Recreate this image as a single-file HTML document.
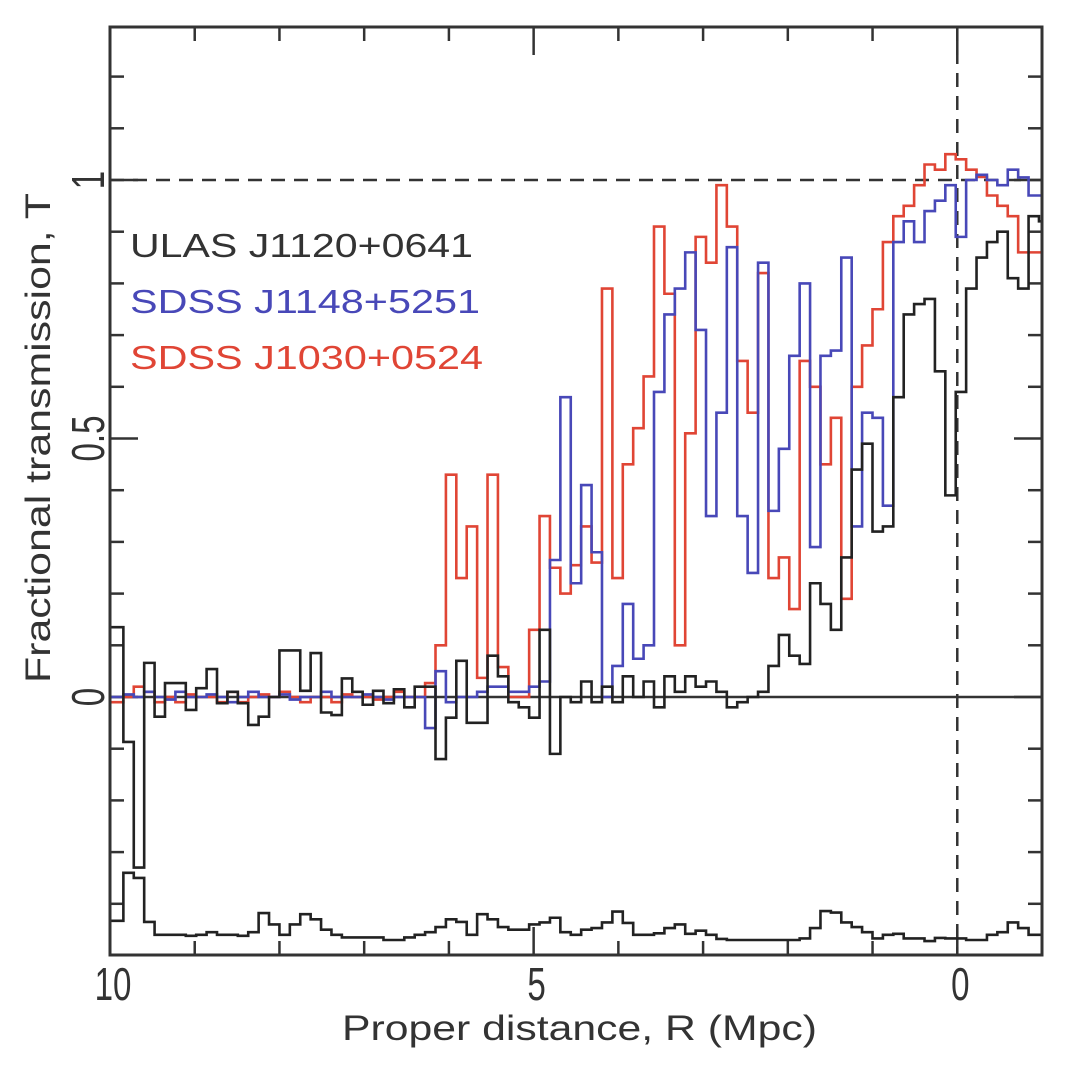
<!DOCTYPE html>
<html><head><meta charset="utf-8"><style>
html,body{margin:0;padding:0;background:#fff;}
svg{display:block;font-family:"Liberation Sans",sans-serif;}
</style></head><body>
<svg id="chart" width="1066" height="1070" viewBox="0 0 1066 1070" xmlns="http://www.w3.org/2000/svg">
<g id="axes"></g>
<g id="series"></g>
<rect x="110" y="27" width="932" height="928" fill="none" stroke="#333" stroke-width="3"/>
<text x="130" y="257" font-size="33" fill="#333" textLength="343" lengthAdjust="spacingAndGlyphs">ULAS J1120+0641</text>
<text x="130" y="313" font-size="33" fill="#4848b8" textLength="350" lengthAdjust="spacingAndGlyphs">SDSS J1148+5251</text>
<text x="130" y="369" font-size="33" fill="#e04535" textLength="353" lengthAdjust="spacingAndGlyphs">SDSS J1030+0524</text>
<text x="342" y="1040" font-size="35" fill="#333" textLength="475" lengthAdjust="spacingAndGlyphs">Proper distance, R (Mpc)</text>
<text transform="translate(50,438) rotate(-90)" text-anchor="middle" font-size="35" fill="#333" textLength="490" lengthAdjust="spacingAndGlyphs">Fractional transmission, T</text>
</svg>
<script>
const ns='http://www.w3.org/2000/svg';
const xTicksMajor=[10,5,0];
const xTickLabels=['10','5','0'];
const xTicksMinor=[9,8,7,6,4,3,2,1,-1];
const yTicksMajor=[1,0.5,0];
const yTickLabels=['1','0.5','0'];
const binStart=9.965;
const binWidth=0.1228;
const blackT=[0.135,-0.087,-0.33,0.066,-0.038,0.027,0.027,-0.025,0.017,0.054,-0.012,0.01,-0.012,-0.054,-0.038,0.0,0.09,0.09,0.012,0.085,-0.03,-0.035,0.036,0.01,-0.015,0.012,-0.012,0.015,-0.02,0.02,0.02,-0.12,-0.04,0.07,-0.05,-0.05,0.08,0.04,-0.01,-0.02,-0.04,0.13,-0.11,0.0,-0.01,0.03,-0.01,0.02,-0.01,0.04,0.0,0.03,-0.02,0.04,0.01,0.04,0.02,0.03,0.01,-0.02,-0.01,0.0,0.01,0.06,0.12,0.08,0.064,0.22,0.18,0.13,0.27,0.44,0.49,0.32,0.33,0.58,0.74,0.76,0.77,0.63,0.39,0.59,0.79,0.85,0.88,0.9,0.81,0.79,0.93,0.92];
const blueT=[0.0,0.005,0.0,0.01,0.0,-0.005,0.01,0.0,0.0,0.005,0.0,-0.01,0.0,0.01,0.0,0.0,0.005,-0.005,0.0,0.0,0.01,0.0,0.0,0.0,0.005,0.0,-0.005,0.0,0.0,0.0,-0.06,0.05,-0.01,0.0,0.0,0.01,0.02,0.02,0.01,0.01,0.02,0.03,0.265,0.58,0.22,0.41,0.28,0.0,0.06,0.18,0.074,0.1,0.59,0.74,0.79,0.86,0.71,0.35,0.55,0.87,0.35,0.24,0.84,0.36,0.48,0.66,0.8,0.29,0.66,0.67,0.85,0.33,0.55,0.54,0.37,0.88,0.92,0.88,0.94,0.96,0.99,0.89,1.0,1.01,1.0,0.99,1.02,1.005,0.97,0.97];
const redT=[-0.01,0.0,0.02,0.01,-0.01,0.0,-0.01,0.005,0.0,0.0,-0.01,0.01,-0.01,0.0,0.005,0.0,0.01,0.0,-0.01,0.0,0.0,-0.01,0.005,0.0,0.0,-0.005,0.0,0.01,0.0,0.0,0.027,0.1,0.43,0.23,0.33,0.037,0.43,0.058,0.0,0.0,0.13,0.35,0.25,0.2,0.255,0.33,0.26,0.79,0.23,0.45,0.52,0.62,0.91,0.78,0.1,0.51,0.89,0.84,0.99,0.91,0.65,0.55,0.82,0.23,0.27,0.17,0.65,0.6,0.45,0.54,0.19,0.6,0.68,0.75,0.88,0.93,0.95,0.99,1.03,1.02,1.05,1.04,1.02,1.006,0.97,0.95,0.93,0.86,0.86,0.86];
const noiseT=[-0.433,-0.34,-0.35,-0.435,-0.46,-0.46,-0.46,-0.462,-0.46,-0.455,-0.46,-0.46,-0.462,-0.455,-0.418,-0.44,-0.46,-0.44,-0.42,-0.43,-0.45,-0.46,-0.465,-0.465,-0.465,-0.465,-0.47,-0.47,-0.465,-0.46,-0.455,-0.445,-0.43,-0.435,-0.46,-0.42,-0.43,-0.445,-0.45,-0.45,-0.44,-0.436,-0.427,-0.455,-0.46,-0.45,-0.447,-0.436,-0.415,-0.437,-0.46,-0.46,-0.457,-0.447,-0.44,-0.458,-0.452,-0.46,-0.468,-0.47,-0.47,-0.47,-0.47,-0.47,-0.47,-0.47,-0.467,-0.447,-0.414,-0.417,-0.436,-0.445,-0.455,-0.467,-0.46,-0.458,-0.467,-0.467,-0.472,-0.466,-0.467,-0.467,-0.47,-0.47,-0.46,-0.455,-0.436,-0.447,-0.46,-0.46];

const X0=110,X1=1042,Y0=27,Y1=955;
function xScale(r){return X0+(10-r)*(X1-X0)/11;}
function yScale(t){return 697-t*517;}
const axes=document.getElementById('axes');
const series=document.getElementById('series');
function mk(tag,attrs,parent){const e=document.createElementNS(ns,tag);for(const k in attrs)e.setAttribute(k,attrs[k]);parent.appendChild(e);return e;}

xTicksMajor.forEach((v,i)=>{
  const x=xScale(v);
  const b=mk('line',{x1:x,x2:x,y1:Y1,y2:Y1-28,stroke:'#333','stroke-width':2.5},axes);
  
  
  const t=mk('line',{x1:x,x2:x,y1:Y0,y2:Y0+28,stroke:'#333','stroke-width':2.5},axes);
  
  
  const l=mk('text',{'text-anchor':'middle','font-size':46,fill:'#333',transform:`translate(${x+3},1000) scale(0.72,1)`},axes);
  l.textContent=xTickLabels[i];
  
  
});
xTicksMinor.forEach(v=>{
  const x=xScale(v);
  const b=mk('line',{x1:x,x2:x,y1:Y1,y2:Y1-14,stroke:'#333','stroke-width':2.5},axes);
  
  
  const t=mk('line',{x1:x,x2:x,y1:Y0,y2:Y0+14,stroke:'#333','stroke-width':2.5},axes);
  
  
});
for(let k=-4;k<=12;k++){
  const v=k/10;const y=yScale(v);
  if(y<Y0||y>Y1)continue;
  const major=(k%5===0);const len=major?28:14;
  const a=mk('line',{x1:X0,x2:X0+len,y1:y,y2:y,stroke:'#333','stroke-width':2.5},axes);
  
  
  const b=mk('line',{x1:X1,x2:X1-len,y1:y,y2:y,stroke:'#333','stroke-width':2.5},axes);
  
  
}
yTicksMajor.forEach((v,i)=>{
  const y=yScale(v);
  const l=mk('text',{transform:`translate(104,${y}) rotate(-90) scale(0.72,1)`,'text-anchor':'middle','font-size':46,fill:'#333'},axes);
  l.textContent=yTickLabels[i];
  
  
});
const z=mk('line',{x1:X0,x2:X1,y1:yScale(0),y2:yScale(0),stroke:'#333','stroke-width':2.5},axes);


const one=mk('line',{x1:X0,x2:X1,y1:yScale(1),y2:yScale(1),stroke:'#333','stroke-width':2.5,'stroke-dasharray':'14,9'},axes);


const vz=mk('line',{x1:xScale(0),x2:xScale(0),y1:Y0,y2:Y1,stroke:'#333','stroke-width':2.5,'stroke-dasharray':'14,9'},axes);



function stepPath(vals){
  let d='';
  vals.forEach((v,i)=>{
    const xa=Math.max(X0,Math.min(X1,xScale(binStart-i*binWidth)));
    const xb=Math.max(X0,Math.min(X1,xScale(binStart-(i+1)*binWidth)));
    const y=yScale(v);
    d+=(i===0?`M${X0},${y}L${xa},${y}`:`L${xa},${y}`)+`L${xb},${y}`;
  });
  return d;
}
const clip=mk('clipPath',{id:'pc'},series);
mk('rect',{x:X0,y:Y0,width:X1-X0,height:Y1-Y0},clip);
const defs=[[redT,'#e04535','series-sdss-j1030'],[blueT,'#4848b8','series-sdss-j1148'],[blackT,'#222','series-ulas-j1120'],[noiseT,'#222','noise-ulas-j1120']];
defs.forEach(([vals,col,name])=>{
  const p=mk('path',{d:stepPath(vals),fill:'none',stroke:col,'stroke-width':2.6,'stroke-linejoin':'miter','clip-path':'url(#pc)'},series);
  
  
});
</script>
</body></html>
